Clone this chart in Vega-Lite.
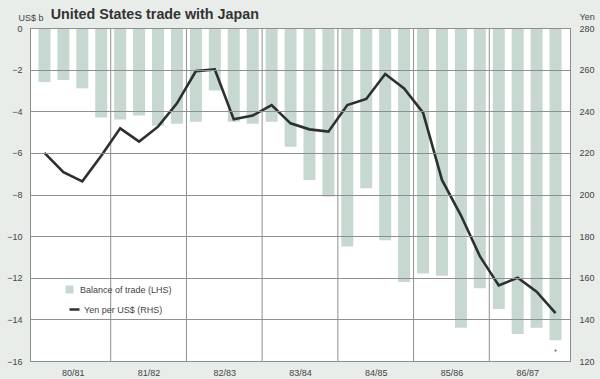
{
  "$schema": "https://vega.github.io/schema/vega-lite/v6.json",
  "width": 540,
  "height": 333,
  "autosize": {"type": "none"},
  "padding": {"left": 30, "top": 28, "right": 30, "bottom": 18},
  "background": "#e8edea",
  "config": {
    "view": {"fill": "white", "stroke": "#8a8a8a", "strokeWidth": 1},
    "font": "Liberation Sans"
  },
  "title": {
    "text": "United States trade with Japan",
    "anchor": "start",
    "dx": 44,
    "dy": 19,
    "offset": 9,
    "fontSize": 14.3,
    "font": "Liberation Sans",
    "fontWeight": "bold",
    "color": "#333333"
  },
  "datasets": {
    "q": [
      {"t": 1, "bal": -2.6, "yen": 220.0, "s1": "Balance of trade (LHS)", "s2": "Yen per US$ (RHS)"},
      {"t": 2, "bal": -2.5, "yen": 210.7, "s1": "Balance of trade (LHS)", "s2": "Yen per US$ (RHS)"},
      {"t": 3, "bal": -2.9, "yen": 206.3, "s1": "Balance of trade (LHS)", "s2": "Yen per US$ (RHS)"},
      {"t": 4, "bal": -4.3, "yen": 218.6, "s1": "Balance of trade (LHS)", "s2": "Yen per US$ (RHS)"},
      {"t": 5, "bal": -4.4, "yen": 231.8, "s1": "Balance of trade (LHS)", "s2": "Yen per US$ (RHS)"},
      {"t": 6, "bal": -4.2, "yen": 225.4, "s1": "Balance of trade (LHS)", "s2": "Yen per US$ (RHS)"},
      {"t": 7, "bal": -4.7, "yen": 232.6, "s1": "Balance of trade (LHS)", "s2": "Yen per US$ (RHS)"},
      {"t": 8, "bal": -4.6, "yen": 243.8, "s1": "Balance of trade (LHS)", "s2": "Yen per US$ (RHS)"},
      {"t": 9, "bal": -4.5, "yen": 259.3, "s1": "Balance of trade (LHS)", "s2": "Yen per US$ (RHS)"},
      {"t": 10, "bal": -3.0, "yen": 260.1, "s1": "Balance of trade (LHS)", "s2": "Yen per US$ (RHS)"},
      {"t": 11, "bal": -4.5, "yen": 236.1, "s1": "Balance of trade (LHS)", "s2": "Yen per US$ (RHS)"},
      {"t": 12, "bal": -4.6, "yen": 237.9, "s1": "Balance of trade (LHS)", "s2": "Yen per US$ (RHS)"},
      {"t": 13, "bal": -4.5, "yen": 243.0, "s1": "Balance of trade (LHS)", "s2": "Yen per US$ (RHS)"},
      {"t": 14, "bal": -5.7, "yen": 234.2, "s1": "Balance of trade (LHS)", "s2": "Yen per US$ (RHS)"},
      {"t": 15, "bal": -7.3, "yen": 231.3, "s1": "Balance of trade (LHS)", "s2": "Yen per US$ (RHS)"},
      {"t": 16, "bal": -8.1, "yen": 230.2, "s1": "Balance of trade (LHS)", "s2": "Yen per US$ (RHS)"},
      {"t": 17, "bal": -10.5, "yen": 243.0, "s1": "Balance of trade (LHS)", "s2": "Yen per US$ (RHS)"},
      {"t": 18, "bal": -7.7, "yen": 245.9, "s1": "Balance of trade (LHS)", "s2": "Yen per US$ (RHS)"},
      {"t": 19, "bal": -10.2, "yen": 257.9, "s1": "Balance of trade (LHS)", "s2": "Yen per US$ (RHS)"},
      {"t": 20, "bal": -12.2, "yen": 251.0, "s1": "Balance of trade (LHS)", "s2": "Yen per US$ (RHS)"},
      {"t": 21, "bal": -11.8, "yen": 239.3, "s1": "Balance of trade (LHS)", "s2": "Yen per US$ (RHS)"},
      {"t": 22, "bal": -11.9, "yen": 207.0, "s1": "Balance of trade (LHS)", "s2": "Yen per US$ (RHS)"},
      {"t": 23, "bal": -14.4, "yen": 190.0, "s1": "Balance of trade (LHS)", "s2": "Yen per US$ (RHS)"},
      {"t": 24, "bal": -12.5, "yen": 170.4, "s1": "Balance of trade (LHS)", "s2": "Yen per US$ (RHS)"},
      {"t": 25, "bal": -13.5, "yen": 156.3, "s1": "Balance of trade (LHS)", "s2": "Yen per US$ (RHS)"},
      {"t": 26, "bal": -14.7, "yen": 160.0, "s1": "Balance of trade (LHS)", "s2": "Yen per US$ (RHS)"},
      {"t": 27, "bal": -14.4, "yen": 153.3, "s1": "Balance of trade (LHS)", "s2": "Yen per US$ (RHS)"},
      {"t": 28, "bal": -15.0, "yen": 143.0, "s1": "Balance of trade (LHS)", "s2": "Yen per US$ (RHS)"}
    ],
    "years": [
      {"b": 4.5}, {"b": 8.5}, {"b": 12.5}, {"b": 16.5}, {"b": 20.5}, {"b": 24.5}
    ],
    "note": [
      {"t": 28, "v": -15.5}
    ]
  },
  "layer": [
    {
      "data": {"name": "q"},
      "mark": {"type": "bar", "size": 12, "stroke": null},
      "encoding": {
        "x": {
          "field": "t",
          "type": "quantitative",
          "scale": {"domain": [0.5, 28.5], "nice": false, "zero": false},
          "axis": {
            "values": [2.5, 6.5, 10.5, 14.5, 18.5, 22.5, 26.5],
            "labelExpr": "['80/81','81/82','82/83','83/84','84/85','85/86','86/87'][floor(datum.value / 4)]",
            "title": null,
            "grid": false,
            "ticks": false,
            "domain": true,
            "domainColor": "#8a8a8a",
            "labelFont": "Liberation Sans",
            "labelFontSize": 9,
            "labelColor": "#444444",
            "labelPadding": 7
          }
        },
        "y": {
          "field": "bal",
          "type": "quantitative",
          "scale": {"domain": [-16, 0], "nice": false},
          "axis": {
            "values": [-16, -14, -12, -10, -8, -6, -4, -2, 0],
            "title": "US$ b",
            "titleAngle": 0,
            "titleX": -12,
            "titleY": -8,
            "titleAlign": "left",
            "titleBaseline": "alphabetic",
            "titleFont": "Liberation Sans",
            "titleFontSize": 9,
            "titleFontWeight": "normal",
            "titleColor": "#444444",
            "grid": true,
            "gridColor": "#8f8f8f",
            "gridWidth": 1,
            "gridOpacity": 1,
            "ticks": false,
            "domain": true,
            "domainColor": "#8a8a8a",
            "labelFont": "Liberation Sans",
            "labelFontSize": 9,
            "labelColor": "#444444",
            "labelPadding": 8,
            "zindex": 1
          }
        },
        "fill": {
          "field": "s1",
          "type": "nominal",
          "scale": {"range": ["#c7d8d1"]},
          "legend": {
            "title": null,
            "orient": "none",
            "legendX": 35,
            "legendY": 257,
            "padding": 0,
            "symbolType": "square",
            "symbolSize": 64,
            "symbolStrokeWidth": 0,
            "labelOffset": 6,
            "labelFont": "Liberation Sans",
            "labelFontSize": 9,
            "labelColor": "#444444"
          }
        }
      }
    },
    {
      "data": {"name": "years"},
      "mark": {"type": "rule", "color": "#8f8f8f", "strokeWidth": 1},
      "encoding": {
        "x": {"field": "b", "type": "quantitative"}
      }
    },
    {
      "data": {"name": "q"},
      "mark": {"type": "line", "strokeWidth": 2.6, "strokeJoin": "miter"},
      "encoding": {
        "x": {"field": "t", "type": "quantitative"},
        "y": {
          "field": "yen",
          "type": "quantitative",
          "scale": {"domain": [120, 280], "nice": false, "zero": false},
          "axis": {
            "orient": "right",
            "values": [120, 140, 160, 180, 200, 220, 240, 260, 280],
            "title": "Yen",
            "titleAngle": 0,
            "titleX": 9,
            "titleY": -9,
            "titleAlign": "left",
            "titleBaseline": "alphabetic",
            "titleFont": "Liberation Sans",
            "titleFontSize": 9,
            "titleFontWeight": "normal",
            "titleColor": "#444444",
            "grid": false,
            "ticks": false,
            "domain": true,
            "domainColor": "#8a8a8a",
            "labelFont": "Liberation Sans",
            "labelFontSize": 9,
            "labelColor": "#444444",
            "labelPadding": 9
          }
        },
        "stroke": {
          "field": "s2",
          "type": "nominal",
          "scale": {"range": ["#2c302f"]},
          "legend": {
            "title": null,
            "orient": "none",
            "legendX": 38,
            "legendY": 275,
            "padding": 0,
            "symbolType": "stroke",
            "symbolSize": 100,
            "symbolStrokeWidth": 2.5,
            "labelOffset": 3,
            "labelFont": "Liberation Sans",
            "labelFontSize": 9,
            "labelColor": "#444444"
          }
        }
      }
    },
    {
      "data": {"name": "note"},
      "mark": {"type": "point", "filled": true, "size": 5, "color": "#333333"},
      "encoding": {
        "x": {"field": "t", "type": "quantitative"},
        "y": {
          "field": "v",
          "type": "quantitative",
          "scale": {"domain": [-16, 0], "nice": false},
          "axis": null
        }
      }
    }
  ],
  "resolve": {"scale": {"y": "independent"}}
}
